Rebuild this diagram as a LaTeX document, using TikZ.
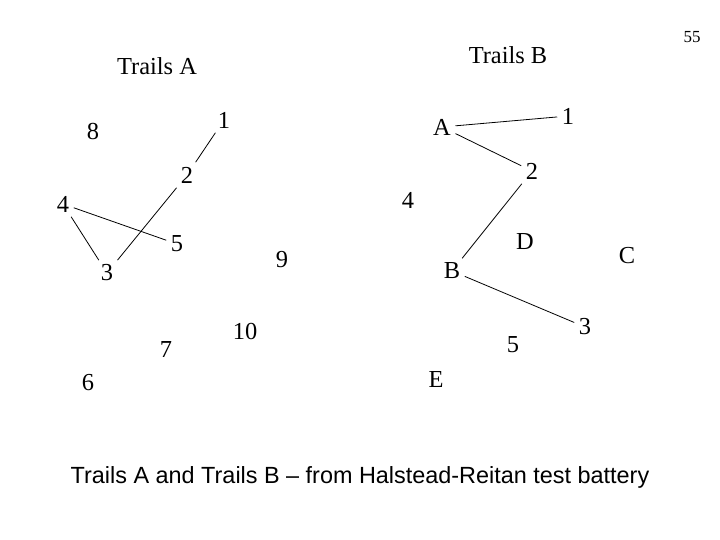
\documentclass[tikz,border=0pt]{standalone}
\usepackage{fontspec}
\setmainfont{Liberation Serif}
\newfontfamily\captionfont{Liberation Sans}
\usetikzlibrary{positioning}

\begin{document}
\begin{tikzpicture}[
        x=1bp, y=-1bp,
        num/.style={
            inner sep=4.5pt,
            font=\fontsize{24.5}{29}\selectfont
        },
        title/.style={
            font=\fontsize{24.5}{29}\selectfont
        },
        trail/.style={line width=0.8pt}
    ]
    \useasboundingbox (0,0) rectangle (720,540);

    % Titles
    \node[title] (titleA) at (157,66) {Trails A};
    \node[title] (titleB) at (508,55) {Trails B};
    \node[font=\fontsize{17}{20}\selectfont] (page) at (692,37) {55};

    % Trails A
    \node[num] (a1)  at (224,120) {1};
    \node[num] (a2)  at (187,175) {2};
    \node[num] (a3)  at (107,273) {3};
    \node[num] (a4)  at (63,204)  {4};
    \node[num] (a5)  at (177,244) {5};
    \node[num] (a6)  at (88,383)  {6};
    \node[num] (a7)  at (166,350) {7};
    \node[num] (a8)  at (93,132)  {8};
    \node[num] (a9)  at (282,260) {9};
    \node[num] (a10) at (245,332) {10};

    % Trails B
    \node[num] (bA) at (442,127) {A};
    \node[num] (b1) at (568,116) {1};
    \node[num] (b2) at (532,171) {2};
    \node[num] (b4) at (408,200) {4};
    \node[num] (bD) at (525,242) {D};
    \node[num] (bC) at (627,256) {C};
    \node[num] (bB) at (452,271) {B};
    \node[num] (b3) at (585,327) {3};
    \node[num] (b5) at (513,345) {5};
    \node[num] (bE) at (436,380) {E};

    % Caption
    \node[font=\captionfont\fontsize{23.5}{28}\selectfont] (caption) at (360,477)
        {Trails A and Trails B – from Halstead-Reitan test battery};

    % Connections, Trails A
    \draw[trail] (a1) -- (a2);
    \draw[trail] (a2) -- (a3);
    \draw[trail] (a3) -- (a4);
    \draw[trail] (a4) -- (a5);

    % Connections, Trails B
    \draw[trail] (bA) -- (b1);
    \draw[trail] (bA) -- (b2);
    \draw[trail] (b2) -- (bB);
    \draw[trail] (bB) -- (b3);

\end{tikzpicture}
\end{document}
